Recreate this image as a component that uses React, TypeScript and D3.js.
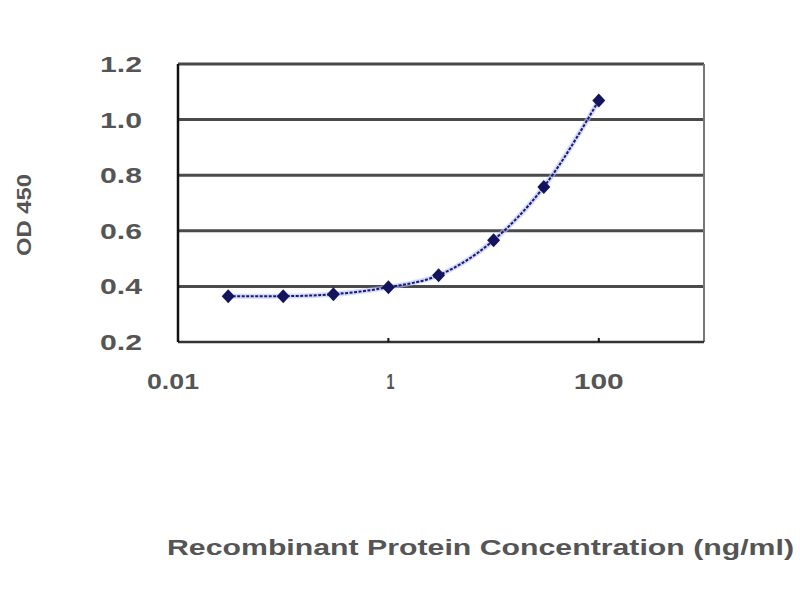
import React from "react";
import * as d3 from "d3";

const concentrations = [0.03, 0.1, 0.3, 1, 3, 10, 30, 100];
const odValues = [0.365, 0.365, 0.372, 0.397, 0.44, 0.566, 0.758, 1.069];
const yTicks = [0.2, 0.4, 0.6, 0.8, 1.0, 1.2];
const xTicks = [0.01, 1, 100];
const xTickLabels = ["0.01", "1", "100"];

export default function App() {
  const W = 800, H = 600;
  const left = 178, right = 704, top = 64, bottom = 342;
  const x = d3.scaleLog().domain([0.01, 1000]).range([left, right]);
  const y = d3.scaleLinear().domain([0.2, 1.2]).range([bottom, top]);
  const pts: [number, number][] = concentrations.map((c, i) => [x(c), y(odValues[i])]);
  const line = d3.line().curve(d3.curveMonotoneX)(pts) || "";
  const font = "Liberation Sans, Arial, sans-serif";
  const xLabelLen = [52, 8, 50];
  const xLabelShift = [-5, 2, 0];
  return (
    <svg width={W} height={H} style={{ position: "absolute", left: 0, top: 0, background: "#fff" }}>
      <rect x={0} y={0} width={W} height={H} fill="#fff" />
      {yTicks.slice(1).map((t) => (
        <line key={t} x1={left} x2={right} y1={y(t)} y2={y(t)} stroke="#4a4a4a" strokeWidth={3} />
      ))}
      <line x1={right} x2={right} y1={top} y2={bottom} stroke="#777" strokeWidth={2} />
      <line x1={left} x2={right} y1={bottom} y2={bottom} stroke="#333" strokeWidth={2.5} />
      <line x1={left} x2={left} y1={top} y2={bottom} stroke="#111" strokeWidth={2.5} />
      {xTicks.map((t) => (
        <line key={t} x1={x(t)} x2={x(t)} y1={bottom} y2={bottom - 4} stroke="#111" strokeWidth={2} />
      ))}
      {yTicks.map((t) => (
        <text key={t} x={100} y={y(t)} dy="0.36em" fontFamily={font} fontWeight="bold" fontSize={22} fill="#555" textLength={42} lengthAdjust="spacingAndGlyphs">
          {t.toFixed(1)}
        </text>
      ))}
      {xTicks.map((t, i) => (
        <text key={t} x={x(t) + xLabelShift[i] - xLabelLen[i] / 2} y={381} dy="0.36em" fontFamily={font} fontWeight="bold" fontSize={22} fill="#555" textLength={xLabelLen[i]} lengthAdjust="spacingAndGlyphs">
          {xTickLabels[i]}
        </text>
      ))}
      <path d={line} fill="none" stroke="#b8c0ff" strokeWidth={5} opacity={0.6} />
      <path d={line} fill="none" stroke="#1a1a6a" strokeWidth={2} strokeDasharray="3,1.5" />
      {pts.map(([px, py], i) => (
        <path key={i} d={`M${px},${py - 7}L${px + 6.5},${py}L${px},${py + 7}L${px - 6.5},${py}Z`} fill="#14145e" />
      ))}
      <text transform="translate(23,215) rotate(-90)" textAnchor="middle" dy="0.36em" fontFamily={font} fontWeight="bold" fontSize={21} fill="#555" textLength={82} lengthAdjust="spacingAndGlyphs">
        OD 450
      </text>
      <text x={167} y={547} dy="0.36em" fontFamily={font} fontWeight="bold" fontSize={22} fill="#555" textLength={627} lengthAdjust="spacingAndGlyphs">
        Recombinant Protein Concentration (ng/ml)
      </text>
    </svg>
  );
}
